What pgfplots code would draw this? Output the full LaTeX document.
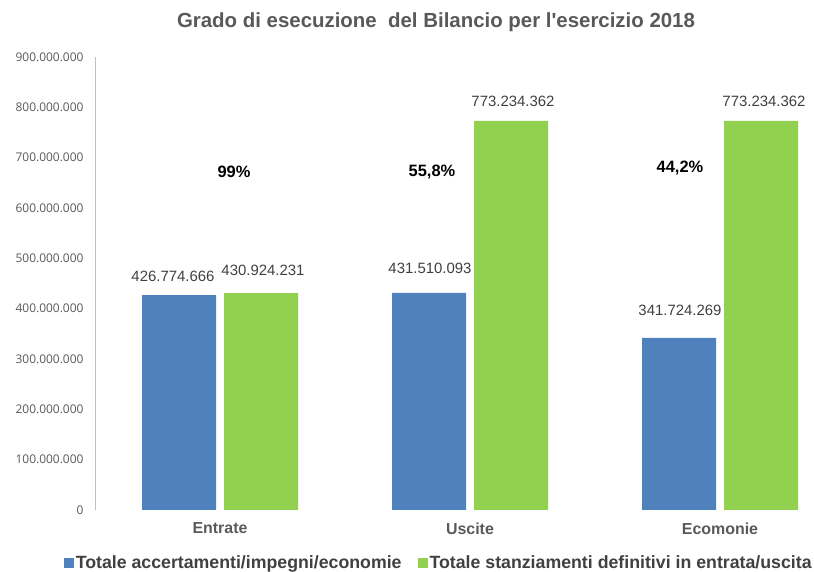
\documentclass[border=0pt]{standalone}
\usepackage{fontspec}
\setmainfont{Liberation Sans}
\newfontfamily\tickfont{Open Sans}
\usepackage{pgfplots}
\pgfplotsset{compat=1.18}
\definecolor{BarBlue}{HTML}{4F81BD}
\definecolor{BarGreen}{HTML}{92D050}
\definecolor{TxtGray}{HTML}{595959}
\definecolor{LblGray}{HTML}{404040}
\definecolor{AxGray}{HTML}{BFBFBF}

\begin{document}
\begin{tikzpicture}
\clip (0bp,0bp) rectangle (814bp,572bp);
\begin{axis}[
  at={(95bp,62bp)}, anchor=south west,
  scale only axis, width=719bp, height=453bp,
  ybar=8bp, bar width=74bp,
  xmin=-0.5, xmax=2.376, ymin=0, ymax=900000000,
  xtick={0,1,2}, xticklabels={Entrate,Uscite,Ecomonie},
  ytick={0,100000000,200000000,300000000,400000000,500000000,600000000,700000000,800000000,900000000},
  scaled y ticks=false,
  /pgf/number format/.cd, fixed, precision=0, 1000 sep={.}, assume math mode=true, /pgfplots/.cd,
  axis lines*=left, separate axis lines,
  x axis line style={draw=none},
  y axis line style={draw=AxGray, line width=0.8bp},
  tick style={draw=none}, major tick length=0pt,
  yticklabel style={font=\tickfont\fontsize{12}{14}\selectfont, text=TxtGray, xshift=-8bp},
  xticklabel style={font=\bfseries\fontsize{16}{18}\selectfont, text=TxtGray, yshift=-9bp},
  legend style={at={(0.478,-0.117)}, anchor=center, legend columns=2, draw=none, fill=none,
    font=\bfseries\fontsize{17.8}{20}\selectfont, text=LblGray,
    /tikz/every even column/.append style={column sep=14bp}},
  legend image code/.code={\fill[#1] (0bp,-5bp) rectangle (10bp,5bp);},
]
\addplot[fill=BarBlue, draw=none] coordinates {(0,426774666) (1,431510093) (2,341724269)};
\addplot[fill=BarGreen, draw=none] coordinates {(0,430924231) (1,773234362) (2,773234362)};
\legend{Totale accertamenti/impegni/economie, Totale stanziamenti definitivi in entrata/uscita}

% etichette dei valori
\begin{scope}[every node/.style={font=\fontsize{15}{17}\selectfont, text=LblGray}]
\node at (axis cs:-0.188,465000000) {426.774.666};
\node at (axis cs:0.172,477000000) {430.924.231};
\node at (axis cs:0.84,481000000) {431.510.093};
\node at (axis cs:1.172,811000000) {773.234.362};
\node at (axis cs:1.84,397000000) {341.724.269};
\node at (axis cs:2.176,811000000) {773.234.362};
\end{scope}

% percentuali
\begin{scope}[every node/.style={font=\bfseries\fontsize{16.5}{18}\selectfont, text=black}]
\node at (axis cs:0.056,672000000) {99\%};
\node at (axis cs:0.848,672000000) {55,8\%};
\node at (axis cs:1.84,680000000) {44,2\%};
\end{scope}
\end{axis}
\node[font=\bfseries\fontsize{20.5}{23}\selectfont\addfontfeatures{Ligatures=TeXOff}, text=TxtGray] at (436bp,550bp)
  {Grado di esecuzione\ \ del Bilancio per l'esercizio 2018};
\end{tikzpicture}
\end{document}
